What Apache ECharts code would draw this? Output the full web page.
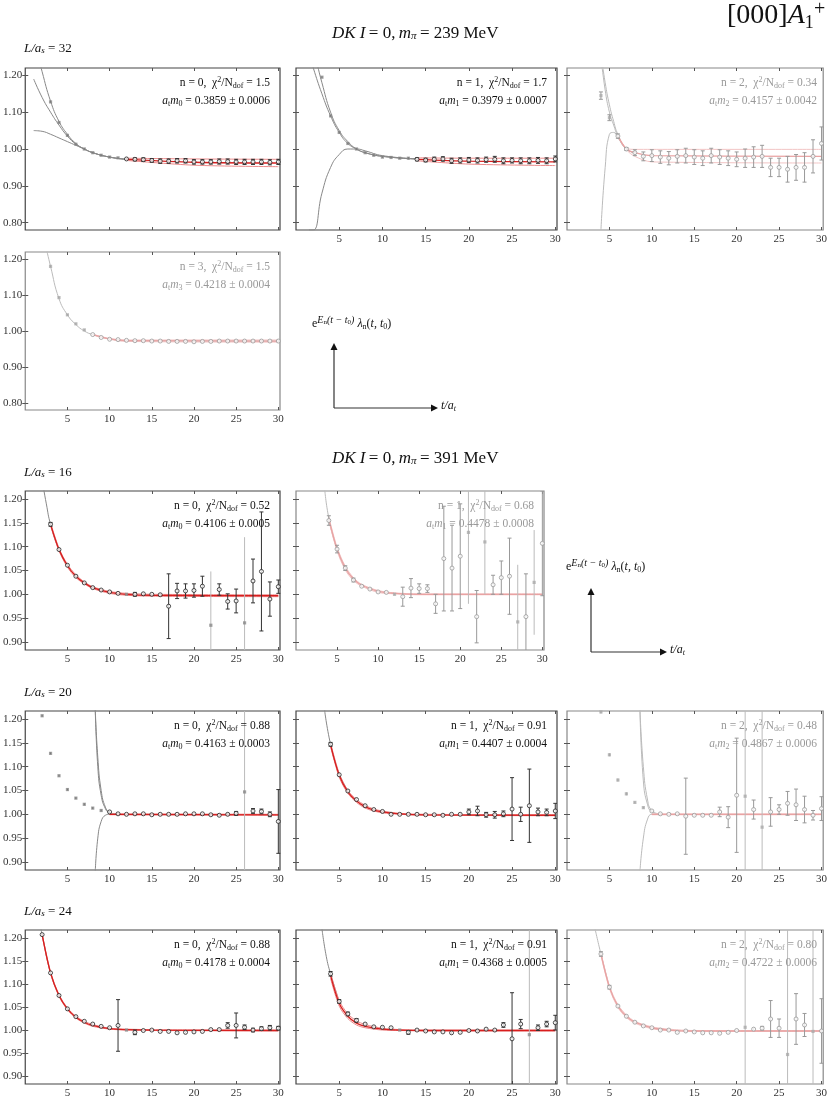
<!DOCTYPE html>
<html><head><meta charset="utf-8">
<script src="https://cdn.jsdelivr.net/npm/echarts@6/dist/echarts.min.js"></script>
<style>html,body{margin:0;padding:0;background:#fff}#c{width:830px;height:1099px}</style>
</head><body><div id="c"></div>
<script>
// ---------- DATA ----------
const X_TICKS = [5, 10, 15, 20, 25, 30];
const Y_TICKS_TOP = [0.8, 0.9, 1.0, 1.1, 1.2];
const Y_TICKS_BOT = [0.9, 0.95, 1.0, 1.05, 1.1, 1.15, 1.2];

// panel 1: L=32 n=0
const P1_T0 = 3;
const P1_VALS = [1.128,1.072,1.037,1.013,1.0,0.99,0.983,0.978,0.976,0.973,0.972,0.971,0.969,0.967,0.967,0.968,0.968,0.965,0.965,0.965,0.966,0.966,0.965,0.965,0.965,0.965,0.964,0.965];
const P1_ERRS = [0.002,0.002,0.002,0.002,0.002,0.002,0.002,0.002,0.002,0.003,0.004,0.005,0.005,0.006,0.006,0.006,0.006,0.006,0.006,0.006,0.007,0.007,0.007,0.007,0.007,0.007,0.007,0.007];
const P1_FIT = 12;
const P1_CT = [1,2,3,4,5,6,7,8,10,12];
const P1_CA = [1.30,1.21,1.13,1.075,1.04,1.015,1.0,0.99,0.978,0.972];
const P1_CB = [1.19,1.14,1.10,1.065,1.035,1.013,1.0,0.99,0.978,0.972];
const P1_CC = [1.05,1.048,1.04,1.03,1.02,1.01,1.0,0.99,0.978,0.972];
const P1_BT = [12,20,30];
const P1_BC = [0.972,0.964,0.962];
const P1_BU = [0.975,0.973,0.972];
const P1_BL = [0.969,0.956,0.952];

// panel 2: L=32 n=1
const P2_T0 = 3;
const P2_VALS = [1.195,1.09,1.045,1.015,1.0,0.99,0.983,0.978,0.977,0.975,0.975,0.972,0.970,0.972,0.973,0.968,0.969,0.970,0.969,0.971,0.972,0.968,0.969,0.968,0.968,0.969,0.968,0.973];
const P2_ERRS = [0.002,0.002,0.002,0.002,0.002,0.002,0.002,0.002,0.002,0.002,0.003,0.004,0.005,0.006,0.006,0.007,0.007,0.007,0.007,0.007,0.008,0.008,0.007,0.008,0.008,0.008,0.008,0.008];
const P2_FIT = 14;
const P2_CT = [1.5,2,3,4,5,6,7,8,10,14];
const P2_CA = [1.30,1.27,1.18,1.10,1.05,1.02,1.0,0.99,0.98,0.973];
const P2_CB = [1.26,1.22,1.15,1.09,1.045,1.015,1.0,0.99,0.98,0.973];
const P2_CC = [0.78,0.78,0.88,0.95,0.985,1.0,1.0,0.995,0.982,0.973];
const P2_BT = [14,20,30];
const P2_BC = [0.972,0.967,0.965];
const P2_BU = [0.976,0.975,0.975];
const P2_BL = [0.968,0.959,0.955];

// panel 3: L=32 n=2
const P3_T0 = 4;
const P3_VALS = [1.145,1.085,1.035,1.0,0.99,0.98,0.982,0.978,0.975,0.98,0.982,0.978,0.975,0.982,0.978,0.975,0.972,0.975,0.978,0.98,0.95,0.95,0.945,0.95,0.95,0.98,1.015];
const P3_ERRS = [0.01,0.008,0.006,0.004,0.008,0.012,0.016,0.017,0.018,0.018,0.02,0.02,0.02,0.02,0.02,0.02,0.02,0.025,0.028,0.03,0.025,0.025,0.035,0.035,0.04,0.045,0.045];
const P3_FIT = 6;
const P3_CT = [4,4.5,5,5.5,6,7,8];
const P3_CA = [1.26,1.18,1.12,1.075,1.04,1.0,0.99];
const P3_CB = [1.25,1.16,1.10,1.065,1.035,1.0,0.99];
const P3_CC = [0.78,0.95,1.04,1.045,1.03,1.0,0.99];
const P3_BT = [6,7,8,10,30];
const P3_BC = [1.035,1.0,0.99,0.982,0.98];
const P3_BU = [1.035,1.002,0.999,0.999,0.999];
const P3_BL = [1.035,0.998,0.98,0.965,0.962];

// panel 4: L=32 n=3
const P4_T0 = 3;
const P4_VALS = [1.18,1.093,1.045,1.02,1.003,0.99,0.982,0.977,0.976,0.974,0.973,0.973,0.972,0.972,0.971,0.971,0.971,0.970,0.971,0.971,0.972,0.972,0.972,0.972,0.972,0.972,0.972,0.972];
const P4_ERRS = [0.002,0.002,0.002,0.002,0.002,0.002,0.002,0.002,0.002,0.002,0.002,0.002,0.002,0.002,0.003,0.003,0.003,0.003,0.003,0.003,0.003,0.003,0.003,0.003,0.003,0.003,0.003,0.003];
const P4_FIT = 8;
const P4_CT = [2,3,4,5,6,7,8,10,12,30];
const P4_CA = [1.28,1.18,1.09,1.045,1.018,1.0,0.99,0.978,0.973,0.972];
const P4_BT = [8,10,12,30];
const P4_BC = [0.99,0.978,0.973,0.972];
const P4_BU = [0.991,0.979,0.975,0.975];
const P4_BL = [0.989,0.977,0.971,0.969];

// panel 5: L=16 n=0
const P5_T0 = 3;
const P5_VALS = [1.147,1.094,1.061,1.038,1.024,1.014,1.009,1.005,1.002,1.0,1.0,1.001,1.0,0.999,0.975,1.007,1.007,1.008,1.017,0.935,1.01,0.985,0.986,0.94,1.028,1.048,0.99,1.016];
const P5_ERRS = [0.004,0.003,0.003,0.002,0.002,0.002,0.001,0.001,0.001,0.001,0.004,0.003,0.002,0.003,0.068,0.016,0.015,0.014,0.021,0.113,0.012,0.016,0.025,0.18,0.046,0.125,0.036,0.014];
const P5_FIT = 3;
const P5_LIGHT = [12,22,26];
const P5_CT = [2,2.5,3,4,5];
const P5_CA = [1.24,1.19,1.147,1.094,1.061];
const P5_BT = [3,4,5,6,7,8,10,12,15,30];
const P5_BC = [1.147,1.094,1.060,1.038,1.024,1.014,1.004,1.0,0.998,0.997];
const P5_BU = [1.150,1.097,1.063,1.041,1.026,1.016,1.006,1.002,1.0,0.999];
const P5_BL = [1.144,1.091,1.057,1.035,1.022,1.012,1.002,0.998,0.996,0.995];

// panel 6: L=16 n=1
const P6_T0 = 4;
const P6_VALS = [1.155,1.095,1.055,1.03,1.017,1.011,1.005,1.004,1.0,0.995,1.013,1.012,1.012,0.98,1.075,1.055,1.08,1.13,0.953,1.11,1.02,1.035,1.038,0.942,0.953,1.025,1.107];
const P6_ERRS = [0.01,0.008,0.005,0.004,0.002,0.002,0.002,0.002,0.002,0.02,0.02,0.01,0.008,0.02,0.11,0.09,0.11,0.15,0.055,0.11,0.02,0.035,0.08,0.12,0.09,0.11,0.11];
const P6_FIT = 4;
const P6_LIGHT = [12,21,23,27,29];
const P6_CT = [3.5,4,5,6];
const P6_CA = [1.22,1.16,1.095,1.055];
const P6_BT = [4,5,6,7,8,10,12,15,30];
const P6_BC = [1.158,1.095,1.055,1.032,1.019,1.006,1.002,1.0,1.0];
const P6_BU = [1.162,1.099,1.059,1.035,1.021,1.008,1.003,1.001,1.001];
const P6_BL = [1.154,1.091,1.051,1.029,1.017,1.004,1.001,0.999,0.999];

// panel 7: L=20 n=0
const P7_T0 = 2;
const P7_VALS = [1.207,1.128,1.081,1.052,1.034,1.021,1.013,1.008,1.005,1.001,1.0,1.001,1.001,0.999,1.0,1.0,1.0,1.001,1.001,1.001,0.999,0.998,1.0,1.002,1.047,1.007,1.006,1.0,0.985];
const P7_ERRS = [0.002,0.002,0.002,0.002,0.002,0.002,0.002,0.002,0.002,0.001,0.001,0.001,0.001,0.001,0.001,0.001,0.001,0.001,0.001,0.002,0.002,0.003,0.003,0.004,0.5,0.005,0.005,0.005,0.067];
const P7_FIT = 10;
const P7_LIGHT = [26];
const P7_CT = [8.3,8.6,9,9.5,10,11];
const P7_CA = [1.22,1.12,1.05,1.015,1.004,1.0];
const P7_CB = [1.22,1.10,1.04,1.012,1.003,1.0];
const P7_CC = [0.88,0.95,0.985,0.998,1.0,1.0];
const P7_BT = [10,30];
const P7_BC = [1.0,0.999];
const P7_BU = [1.001,1.0];
const P7_BL = [0.999,0.998];

// panel 8: L=20 n=1
const P8_T0 = 4;
const P8_VALS = [1.147,1.083,1.049,1.031,1.018,1.01,1.006,1.0,1.0,1.0,1.0,0.999,0.999,0.998,1.0,1.0,1.005,1.007,0.999,0.999,1.001,1.011,1.0,1.018,1.005,1.004,1.007];
const P8_ERRS = [0.004,0.003,0.003,0.003,0.002,0.002,0.002,0.003,0.001,0.001,0.002,0.001,0.002,0.002,0.002,0.003,0.006,0.01,0.005,0.007,0.006,0.066,0.015,0.077,0.008,0.007,0.016];
const P8_FIT = 4;
const P8_LIGHT = [];
const P8_CT = [3.3,4,5,6];
const P8_CA = [1.22,1.147,1.085,1.05];
const P8_BT = [4,5,6,7,8,9,10,12,15,30];
const P8_BC = [1.146,1.082,1.047,1.028,1.016,1.009,1.005,1.001,0.999,0.998];
const P8_BU = [1.150,1.086,1.050,1.031,1.019,1.011,1.007,1.002,1.0,0.999];
const P8_BL = [1.142,1.078,1.044,1.025,1.013,1.007,1.003,1.0,0.998,0.997];

// panel 9: L=20 n=2
const P9_T0 = 4;
const P9_VALS = [1.215,1.125,1.072,1.043,1.025,1.014,1.007,1.001,1.0,1.001,0.996,0.998,0.998,0.998,1.005,0.994,1.04,1.038,1.01,0.973,1.005,1.01,1.023,1.02,1.01,0.998,1.012];
const P9_ERRS = [0.003,0.003,0.003,0.003,0.002,0.002,0.002,0.002,0.001,0.001,0.08,0.002,0.002,0.002,0.01,0.022,0.12,0.5,0.02,0.5,0.03,0.01,0.025,0.033,0.028,0.01,0.025];
const P9_FIT = 10;
const P9_LIGHT = [21,23];
const P9_CT = [8.6,9,9.5,10,11];
const P9_CA = [1.22,1.10,1.03,1.008,1.0];
const P9_CB = [1.22,1.07,1.02,1.005,1.0];
const P9_CC = [0.88,0.95,0.99,1.0,1.0];
const P9_BT = [10,30];
const P9_BC = [1.0,1.0];
const P9_BU = [1.001,1.001];
const P9_BL = [0.999,0.999];

// panel 10: L=24 n=0
const P10_T0 = 2;
const P10_VALS = [1.207,1.124,1.075,1.046,1.029,1.019,1.013,1.008,1.005,1.01,1.0,0.995,0.999,1.0,0.997,0.997,0.994,0.995,0.996,0.997,1.001,1.001,1.01,1.01,1.006,1.0,1.003,1.005,1.004];
const P10_ERRS = [0.003,0.003,0.003,0.003,0.003,0.002,0.002,0.002,0.002,0.056,0.001,0.005,0.002,0.002,0.002,0.002,0.002,0.002,0.002,0.002,0.003,0.003,0.006,0.027,0.005,0.004,0.004,0.005,0.004];
const P10_FIT = 2;
const P10_LIGHT = [12];
const P10_CT = [1.8,2,3,4];
const P10_CA = [1.225,1.207,1.124,1.075];
const P10_BT = [2,3,4,5,6,7,8,10,12,15,30];
const P10_BC = [1.207,1.124,1.075,1.046,1.028,1.017,1.010,1.003,1.001,1.0,0.999];
const P10_BU = [1.209,1.126,1.077,1.048,1.030,1.019,1.012,1.004,1.002,1.001,1.0];
const P10_BL = [1.205,1.122,1.073,1.044,1.026,1.015,1.008,1.002,1.0,0.999,0.998];

// panel 11: L=24 n=1
const P11_T0 = 4;
const P11_VALS = [1.122,1.062,1.035,1.021,1.013,1.007,1.006,1.005,1.0,0.995,1.0,0.998,0.996,0.996,0.994,0.995,0.999,0.998,1.002,1.0,1.011,0.981,1.013,0.99,1.005,1.013,1.016];
const P11_ERRS = [0.005,0.004,0.004,0.004,0.003,0.003,0.003,0.003,0.001,0.004,0.002,0.002,0.002,0.002,0.003,0.003,0.003,0.003,0.003,0.003,0.005,0.1,0.01,0.5,0.006,0.006,0.016];
const P11_FIT = 4;
const P11_LIGHT = [12,27];
const P11_CT = [3,3.5,4,5];
const P11_CA = [1.22,1.16,1.122,1.062];
const P11_BT = [4,5,6,7,8,10,12,15,30];
const P11_BC = [1.118,1.058,1.030,1.015,1.008,1.002,1.0,0.999,0.999];
const P11_BU = [1.124,1.064,1.035,1.02,1.012,1.004,1.001,1.0,1.0];
const P11_BL = [1.112,1.052,1.025,1.011,1.005,1.0,0.999,0.998,0.998];

// panel 12: L=24 n=2
const P12_T0 = 4;
const P12_VALS = [1.165,1.093,1.052,1.03,1.017,1.009,1.005,1.0,1.0,0.995,0.998,0.996,0.994,0.994,0.993,0.995,0.999,1.006,1.002,1.004,1.024,1.004,0.947,1.024,1.011,0.997,0.998];
const P12_ERRS = [0.005,0.004,0.003,0.003,0.003,0.002,0.002,0.002,0.002,0.002,0.003,0.002,0.002,0.002,0.002,0.002,0.002,0.5,0.003,0.004,0.04,0.02,0.5,0.055,0.025,0.5,0.07];
const P12_FIT = 4;
const P12_LIGHT = [21,26,29];
const P12_CT = [3.3,4,5];
const P12_CA = [1.22,1.165,1.093];
const P12_BT = [4,5,6,7,8,10,12,15,30];
const P12_BC = [1.165,1.093,1.052,1.03,1.017,1.005,1.0,0.998,0.998];
const P12_BU = [1.168,1.096,1.055,1.033,1.019,1.007,1.002,0.999,0.999];
const P12_BL = [1.162,1.090,1.049,1.027,1.015,1.003,0.999,0.997,0.997];

const ANNOT_L1 = ['n = 0,  χ²/N_dof = 1.5','n = 1,  χ²/N_dof = 1.7','n = 2,  χ²/N_dof = 0.34','n = 3,  χ²/N_dof = 1.5',
  'n = 0,  χ²/N_dof = 0.52','n = 1,  χ²/N_dof = 0.68','n = 0,  χ²/N_dof = 0.88','n = 1,  χ²/N_dof = 0.91','n = 2,  χ²/N_dof = 0.48',
  'n = 0,  χ²/N_dof = 0.88','n = 1,  χ²/N_dof = 0.91','n = 2,  χ²/N_dof = 0.80'];
const ANNOT_L2 = [['0','0.3859 ± 0.0006'],['1','0.3979 ± 0.0007'],['2','0.4157 ± 0.0042'],['3','0.4218 ± 0.0004'],
  ['0','0.4106 ± 0.0005'],['1','0.4478 ± 0.0008'],['0','0.4163 ± 0.0003'],['1','0.4407 ± 0.0004'],['2','0.4867 ± 0.0006'],
  ['0','0.4178 ± 0.0004'],['1','0.4368 ± 0.0005'],['2','0.4722 ± 0.0006']];

// ---------- BUILD ----------
const zip = (t, y) => t.map((v, i) => [v, y[i]]);
const COLS = [23, 296, 567], WID = [257, 248, 260];
const ROWS = [[68,162],[252,158],[491,159],[711,159],[930,160]];
function pan(col,row,top,spec){ return Object.assign({left:COLS[col],width:col===1&&row===2?248:(col===1?261:WID[col]),top:ROWS[row][0],height:ROWS[row][1],topSec:top},spec); }
const panels = [
 pan(0,0,true,{t0:P1_T0,v:P1_VALS,e:P1_ERRS,fit:P1_FIT,light:[],curves:[zip(P1_CT,P1_CA),zip(P1_CT,P1_CB),zip(P1_CT,P1_CC)],band:[P1_BT,P1_BC,P1_BU,P1_BL],faded:false,xl:false,yl:true}),
 pan(1,0,true,{t0:P2_T0,v:P2_VALS,e:P2_ERRS,fit:P2_FIT,light:[],curves:[zip(P2_CT,P2_CA),zip(P2_CT,P2_CB),zip(P2_CT,P2_CC)],band:[P2_BT,P2_BC,P2_BU,P2_BL],faded:false,xl:true,yl:false}),
 pan(2,0,true,{t0:P3_T0,v:P3_VALS,e:P3_ERRS,fit:P3_FIT,light:[],curves:[zip(P3_CT,P3_CA),zip(P3_CT,P3_CB),zip(P3_CT,P3_CC)],band:[P3_BT,P3_BC,P3_BU,P3_BL],faded:true,xl:true,yl:false}),
 pan(0,1,true,{t0:P4_T0,v:P4_VALS,e:P4_ERRS,fit:P4_FIT,light:[],curves:[zip(P4_CT,P4_CA)],band:[P4_BT,P4_BC,P4_BU,P4_BL],faded:true,xl:true,yl:true}),
 pan(0,2,false,{t0:P5_T0,v:P5_VALS,e:P5_ERRS,fit:P5_FIT,light:P5_LIGHT,curves:[zip(P5_CT,P5_CA)],band:[P5_BT,P5_BC,P5_BU,P5_BL],faded:false,xl:true,yl:true}),
 pan(1,2,false,{t0:P6_T0,v:P6_VALS,e:P6_ERRS,fit:P6_FIT,light:P6_LIGHT,curves:[zip(P6_CT,P6_CA)],band:[P6_BT,P6_BC,P6_BU,P6_BL],faded:true,xl:true,yl:false}),
 pan(0,3,false,{t0:P7_T0,v:P7_VALS,e:P7_ERRS,fit:P7_FIT,light:P7_LIGHT,curves:[zip(P7_CT,P7_CA),zip(P7_CT,P7_CB),zip(P7_CT,P7_CC)],band:[P7_BT,P7_BC,P7_BU,P7_BL],faded:false,xl:true,yl:true}),
 pan(1,3,false,{t0:P8_T0,v:P8_VALS,e:P8_ERRS,fit:P8_FIT,light:P8_LIGHT,curves:[zip(P8_CT,P8_CA)],band:[P8_BT,P8_BC,P8_BU,P8_BL],faded:false,xl:true,yl:false}),
 pan(2,3,false,{t0:P9_T0,v:P9_VALS,e:P9_ERRS,fit:P9_FIT,light:P9_LIGHT,curves:[zip(P9_CT,P9_CA),zip(P9_CT,P9_CB),zip(P9_CT,P9_CC)],band:[P9_BT,P9_BC,P9_BU,P9_BL],faded:true,xl:true,yl:false}),
 pan(0,4,false,{t0:P10_T0,v:P10_VALS,e:P10_ERRS,fit:P10_FIT,light:P10_LIGHT,curves:[zip(P10_CT,P10_CA)],band:[P10_BT,P10_BC,P10_BU,P10_BL],faded:false,xl:true,yl:true}),
 pan(1,4,false,{t0:P11_T0,v:P11_VALS,e:P11_ERRS,fit:P11_FIT,light:P11_LIGHT,curves:[zip(P11_CT,P11_CA)],band:[P11_BT,P11_BC,P11_BU,P11_BL],faded:false,xl:true,yl:false}),
 pan(2,4,false,{t0:P12_T0,v:P12_VALS,e:P12_ERRS,fit:P12_FIT,light:P12_LIGHT,curves:[zip(P12_CT,P12_CA)],band:[P12_BT,P12_BC,P12_BU,P12_BL],faded:true,xl:true,yl:false}),
];

const SERIF = 'Liberation Serif, DejaVu Serif, serif';
const grid=[], xAxis=[], yAxis=[], series=[], graphic=[];
panels.forEach((p,i)=>{
  const ymin = p.topSec?0.78:0.883, ymax = p.topSec?1.22:1.217;
  const yt = p.topSec?Y_TICKS_TOP:Y_TICKS_BOT;
  const dark = p.faded?'#9a9a9a':'#222';
  const red = p.faded?'#e9a3a3':'#d81e1e';
  const redL = p.faded?'#f2c4c4':'#ec8a8a';
  grid.push({left:p.left,top:p.top,width:p.width,height:p.height,show:true,borderColor:p.faded?'#888':'#444',borderWidth:1.2,backgroundColor:'transparent'});
  xAxis.push({gridIndex:i,type:'value',min:0,max:30.2,splitLine:{show:false},axisLine:{show:false},
    axisTick:{show:true,inside:true,length:3,customValues:X_TICKS,lineStyle:{color:'#555'}},
    axisLabel:{show:p.xl,customValues:X_TICKS,fontFamily:SERIF,fontSize:11,color:'#333',margin:4}});
  xAxis.push({gridIndex:i,type:'value',min:0,max:30.2,position:'top',splitLine:{show:false},axisLine:{show:false},
    axisTick:{show:true,inside:true,length:3,customValues:X_TICKS,lineStyle:{color:'#555'}},axisLabel:{show:false}});
  yAxis.push({gridIndex:i,type:'value',min:ymin,max:ymax,splitLine:{show:false},axisLine:{show:false},
    axisTick:{show:true,inside:true,length:3,customValues:yt,lineStyle:{color:'#555'}},
    axisLabel:{show:p.yl,customValues:yt,formatter:v=>v.toFixed(2),fontFamily:SERIF,fontSize:11,color:'#333',margin:3}});
  yAxis.push({gridIndex:i,type:'value',min:ymin,max:ymax,position:'right',splitLine:{show:false},axisLine:{show:false},
    axisTick:{show:true,inside:true,length:3,customValues:yt,lineStyle:{color:'#555'}},axisLabel:{show:false}});
  const xi=2*i, yi=2*i;
  p.curves.forEach(c=>series.push({type:'line',xAxisIndex:xi,yAxisIndex:yi,data:c,smooth:true,showSymbol:false,silent:true,clip:true,
    lineStyle:{color:p.faded?'#bbb':'#888',width:1},z:2}));
  const [bt,bc,bu,bl]=p.band;
  [[bu,redL,1],[bl,redL,1],[bc,red,1.3]].forEach(([arr,col,w])=>series.push({type:'line',xAxisIndex:xi,yAxisIndex:yi,data:zip(bt,arr),smooth:0.3,showSymbol:false,silent:true,clip:true,lineStyle:{color:col,width:w},z:3}));
  const pts = p.v.map((y,k)=>{const t=p.t0+k; return {t,y,e:p.e[k],light:p.light.includes(t),fit:t>=p.fit};});
  const errData = pts.map(q=>[q.t,q.y,q.e,q.light?1:0]);
  series.push({type:'custom',xAxisIndex:xi,yAxisIndex:yi,data:errData,clip:true,z:4,silent:true,
    renderItem:(params,api)=>{const t=api.value(0),y=api.value(1),e=api.value(2),lt=api.value(3);
      const a=api.coord([t,y+e]),b=api.coord([t,y-e]);const col=lt?'#bbb':(p.faded?'#999':'#333');
      const ch=[{type:'line',shape:{x1:a[0],y1:a[1],x2:b[0],y2:b[1]},style:{stroke:col,lineWidth:1}}];
      if(!lt && e>0.003){ch.push({type:'line',shape:{x1:a[0]-2,y1:a[1],x2:a[0]+2,y2:a[1]},style:{stroke:col,lineWidth:1}});
        ch.push({type:'line',shape:{x1:b[0]-2,y1:b[1],x2:b[0]+2,y2:b[1]},style:{stroke:col,lineWidth:1}});}
      return {type:'group',children:ch};}});
  series.push({type:'scatter',xAxisIndex:xi,yAxisIndex:yi,silent:true,z:5,symbol:'rect',symbolSize:3.2,
    data:pts.filter(q=>!q.fit||q.light).map(q=>[q.t,q.y]),itemStyle:{color:p.faded?'#aaa':'#888'}});
  series.push({type:'scatter',xAxisIndex:xi,yAxisIndex:yi,silent:true,z:6,symbol:'circle',symbolSize:4,
    data:pts.filter(q=>q.fit&&!q.light).map(q=>[q.t,q.y]),itemStyle:{color:'#fff',borderColor:dark,borderWidth:1}});
  const tc = p.faded?'#999':'#111';
  const [n1,rest]=ANNOT_L1[i].split('χ²/N_dof');
  graphic.push({type:'text',right:830-(p.left+p.width)+10,top:p.top+8,z:10,style:{
    text:`{n|${n1}}{n|χ}{sup|2}{n|/N}{sub|dof}{n|${rest}}`,fill:tc,align:'right',
    rich:{n:{fontFamily:SERIF,fontSize:11.5,fill:tc},sup:{fontFamily:SERIF,fontSize:8,fill:tc,padding:[0,0,6,0]},sub:{fontFamily:SERIF,fontSize:8,fill:tc,padding:[5,0,0,0]}}}});
  graphic.push({type:'text',right:830-(p.left+p.width)+10,top:p.top+27,z:10,style:{
    text:`{i|a}{sub|t}{i|m}{sub|${ANNOT_L2[i][0]}}{n| = ${ANNOT_L2[i][1]}}`,fill:tc,
    rich:{n:{fontFamily:SERIF,fontSize:11.5,fill:tc},i:{fontFamily:SERIF,fontStyle:'italic',fontSize:11.5,fill:tc},sub:{fontFamily:SERIF,fontSize:8,fill:tc,padding:[5,0,0,0]}}}});
});

const RICHT = {i:{fontFamily:SERIF,fontStyle:'italic',fontSize:17,fill:'#111'},n:{fontFamily:SERIF,fontSize:17,fill:'#111'},s:{fontFamily:SERIF,fontStyle:'italic',fontSize:11,fill:'#111',padding:[6,0,0,0]}};
graphic.push({type:'text',left:332,top:25,style:{text:'{i|DK I} {n|= 0,} {i|m}{s|π} {n|= 239 MeV}',rich:RICHT}});
graphic.push({type:'text',left:332,top:450,style:{text:'{i|DK I} {n|= 0,} {i|m}{s|π} {n|= 391 MeV}',rich:RICHT}});
graphic.push({type:'text',left:727,top:2,style:{text:'{n|[000]}{i|A}{s|1}',rich:{n:{fontFamily:SERIF,fontSize:28,fill:'#111'},i:{fontFamily:SERIF,fontStyle:'italic',fontSize:28,fill:'#111'},s:{fontFamily:SERIF,fontSize:18,fill:'#111',padding:[14,0,0,0]}}}});
graphic.push({type:'text',left:814,top:0,style:{text:'+',fontFamily:SERIF,fontSize:20,fill:'#111'}});
const LRICH={i:{fontFamily:SERIF,fontStyle:'italic',fontSize:13,fill:'#111'},n:{fontFamily:SERIF,fontSize:13,fill:'#111'},s:{fontFamily:SERIF,fontStyle:'italic',fontSize:9,fill:'#111',padding:[5,0,0,0]}};
[['32',42],['16',466],['20',686],['24',905]].forEach(([L,y])=>graphic.push({type:'text',left:24,top:y,style:{text:`{i|L/a}{s|s}{n| = ${L}}`,rich:LRICH}}));
function diagram(x0,y0,xl,yt,lx,ly){
  graphic.push({type:'line',shape:{x1:x0,y1:y0,x2:x0,y2:yt+6},style:{stroke:'#333',lineWidth:1.2}});
  graphic.push({type:'polygon',shape:{points:[[x0-3.5,yt+7],[x0+3.5,yt+7],[x0,yt]]},style:{fill:'#111'}});
  graphic.push({type:'line',shape:{x1:x0,y1:y0,x2:xl-6,y2:y0},style:{stroke:'#333',lineWidth:1.2}});
  graphic.push({type:'polygon',shape:{points:[[xl-7,y0-3.5],[xl-7,y0+3.5],[xl,y0]]},style:{fill:'#111'}});
  graphic.push({type:'text',left:xl+3,top:y0-8,style:{text:'{i|t/a}{s|t}',rich:{i:{fontFamily:SERIF,fontStyle:'italic',fontSize:12,fill:'#111'},s:{fontFamily:SERIF,fontStyle:'italic',fontSize:8,fill:'#111',padding:[5,0,0,0]}}}});
  graphic.push({type:'text',left:lx,top:ly,style:{text:'{n|e}{s|E}{ss|n}{s|(t − t}{ss|0}{s|)}{i| λ}{ss2|n}{n|(}{i|t, t}{ss2|0}{n|)}',
    rich:{n:{fontFamily:SERIF,fontSize:12,fill:'#111'},i:{fontFamily:SERIF,fontStyle:'italic',fontSize:12,fill:'#111'},
      s:{fontFamily:SERIF,fontStyle:'italic',fontSize:10,fill:'#111',padding:[0,0,8,0]},ss:{fontFamily:SERIF,fontSize:7,fill:'#111',padding:[0,0,4,0]},
      ss2:{fontFamily:SERIF,fontSize:8,fill:'#111',padding:[5,0,0,0]}}}});
}
diagram(334,408,438,343,312,315);
diagram(591,652,667,588,566,558);

const chart = echarts.init(document.getElementById('c'),null,{renderer:'canvas'});
chart.setOption({animation:false,backgroundColor:'#fff',grid,xAxis,yAxis,series,graphic});
</script></body></html>
